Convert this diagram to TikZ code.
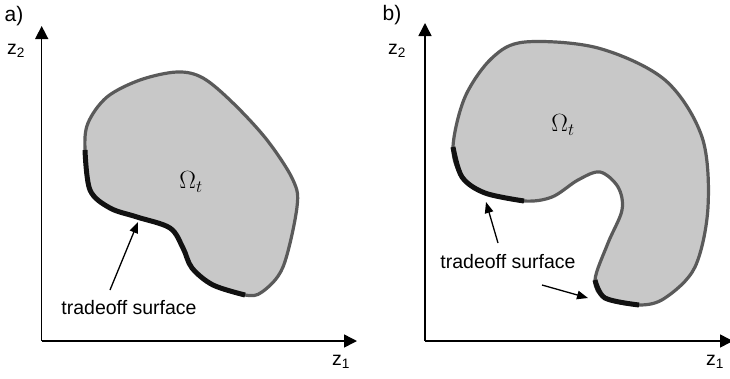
\documentclass[tikz,border=0pt]{standalone}
\usepackage{fontspec}
\setmainfont{Liberation Sans}
\usetikzlibrary{arrows.meta}
\definecolor{regionfill}{HTML}{C8C8C8}
\definecolor{edgegray}{HTML}{5A5A5A}
\definecolor{frontblack}{HTML}{111111}

\begin{document}
\begin{tikzpicture}[
    x=1pt, y=-1pt,
    axis/.style={-{Triangle[length=13pt, width=13pt]}, line width=1.5pt},
    arr/.style={-{Triangle[length=11pt, width=8.5pt]}, line width=1.3pt},
    region/.style={fill=regionfill, draw=edgegray, line width=3.2pt},
    front/.style={draw=frontblack, line width=5pt},
    lbl/.style={font=\fontsize{19.5}{23}\selectfont, inner sep=0pt},
    tag/.style={font=\fontsize{21}{25}\selectfont, inner sep=0pt},
    omega/.style={font=\fontsize{23}{27}\selectfont, inner sep=0pt},
  ]
  \useasboundingbox (0,0) rectangle (730,378);

  % ── Panel a ──
  \node[tag] (taga) at (14,16) {a)};
  \coordinate (oa) at (41.7,341);
  \coordinate (ya) at (41.7,26);
  \coordinate (xa) at (357,341);
  \draw[axis] (oa) -- (ya);
  \draw[axis] (oa) -- (xa);
  \node[lbl] (z2a) at (16,51) {z\textsubscript{2}};
  \node[lbl] (z1a) at (341,362) {z\textsubscript{1}};

  % region
  \draw[region] plot[smooth cycle, tension=0.55] coordinates {
    (85,150) (90,190) (110,208) (137,217) (170,228) (183,248) (192,268)
    (213,285) (245,295) (262,292) (283,267) (297,207) (293,180) (267,140)
    (233,103) (203,78) (177,72) (140,80) (107,97) (88,123)};
  \draw[front] plot[smooth, tension=0.55] coordinates {
    (85,150) (90,190) (110,208) (137,217) (170,228) (183,248) (192,268)
    (213,285) (245,295)};
  \node[omega] (omegaa) at (191,182) {$\Omega_t$};

  % tradeoff label
  \node[lbl] (tsa) at (129,308) {tradeoff surface};
  \coordinate (sa) at (110,290);
  \coordinate (pa) at (138,222);
  \draw[arr] (sa) -- (pa);

  % ── Panel b ──
  \node[tag] (tagb) at (392,15) {b)};
  \coordinate (ob) at (425,341);
  \coordinate (yb) at (425,23);
  \coordinate (xb) at (733,341);
  \draw[axis] (ob) -- (yb);
  \draw[axis] (ob) -- (xb);
  \node[lbl] (z2b) at (397,51) {z\textsubscript{2}};
  \node[lbl] (z1b) at (715,362) {z\textsubscript{1}};

  % region
  \draw[region] plot[smooth cycle, tension=0.55] coordinates {
    (453,147) (462,177) (485,193) (524,201) (552,197) (578,180) (600,172)
    (618,187) (622,210) (608,243) (595,280) (605,298) (639,305) (665,298)
    (695,267) (708,207) (702,137) (665,80) (598,48) (525,42) (492,58)
    (465,97)};
  \draw[front] plot[smooth, tension=0.55] coordinates {
    (453,147) (462,177) (485,193) (524,201)};
  \draw[front] plot[smooth, tension=0.55] coordinates {
    (595,280) (605,298) (639,305)};
  \node[omega] (omegab) at (563,125) {$\Omega_t$};

  % tradeoff label
  \node[lbl] (tsb) at (508,262) {tradeoff surface};
  \coordinate (sb1) at (498,243);
  \coordinate (pb1) at (486,202);
  \coordinate (sb2) at (542,285);
  \coordinate (pb2) at (588,298);
  \draw[arr] (sb1) -- (pb1);
  \draw[arr] (sb2) -- (pb2);

\end{tikzpicture}
\end{document}
